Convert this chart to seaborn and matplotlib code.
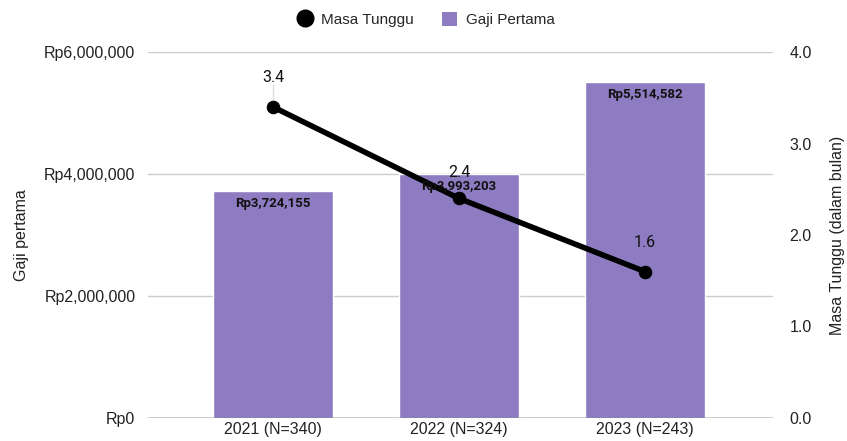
import matplotlib
matplotlib.use("Agg")
import matplotlib.pyplot as plt
import seaborn as sns
import pandas as pd
from matplotlib.lines import Line2D
from matplotlib.patches import Patch

categories = ["2021 (N=340)", "2022 (N=324)", "2023 (N=243)"]
gaji = [3724155, 3993203, 5514582]
masa = [3.4, 2.4, 1.6]
left_ticks = [0, 2000000, 4000000, 6000000]
right_ticks = [0.0, 1.0, 2.0, 3.0, 4.0]

df = pd.DataFrame({"tahun": categories, "gaji": gaji, "masa": masa})

sns.set_style("white")
plt.rcParams["font.family"] = ["Liberation Sans", "DejaVu Sans"]

fig = plt.figure(figsize=(8.47, 4.41), dpi=100)
ax = fig.add_axes([0.1747, 0.0522, 0.9126 - 0.1747, 0.882 - 0.0522])
bar_color = "#8e7cc3"
sns.barplot(data=df, x="tahun", y="gaji", color=bar_color, width=0.645,
            saturation=1, ax=ax, zorder=2)
ax.set_ylim(0, 6000000)
ax.set_xlim(-0.672, 2.688)
ax.set_yticks(left_ticks)
ax.set_yticklabels([f"Rp{v:,.0f}" for v in left_ticks], fontsize=11.5, color="#222222")
ax.set_xlabel("")
ax.set_ylabel("Gaji pertama", fontsize=11.5, color="#222222", labelpad=11)
ax.tick_params(axis="x", labelsize=11.5, colors="#222222", length=0, pad=3)
ax.tick_params(axis="y", length=0, pad=9)
ax.grid(axis="y", color="#cccccc", linewidth=1, zorder=0)
ax.set_axisbelow(True)
for s in ax.spines.values():
    s.set_visible(False)
ax.axhline(0, color="#333333", linewidth=1, zorder=3)

ax2 = ax.twinx()
sns.lineplot(x=list(range(len(categories))), y=masa, ax=ax2, color="black",
             linewidth=4, marker="o", markersize=9, markeredgecolor="black", zorder=5)
ax2.set_ylim(0, 4)
ax2.set_yticks(right_ticks)
ax2.set_yticklabels([f"{v:.1f}" for v in right_ticks], fontsize=11.5, color="#222222")
ax2.set_ylabel("Masa Tunggu (dalam bulan)", fontsize=11.5, color="#222222", labelpad=13)
ax2.tick_params(axis="y", length=0, pad=12)
for s in ax2.spines.values():
    s.set_visible(False)

for i, v in enumerate(gaji):
    ax2.annotate(f"Rp{v:,.0f}", xy=(i, v), xycoords=ax.transData, xytext=(0, -9),
                 textcoords="offset points", ha="center", va="center", fontsize=9.5,
                 fontweight="bold", family=["Roboto", "DejaVu Sans"], color="#111111", zorder=7)

offsets = [21, 19, 21]
for i, v in enumerate(masa):
    ax2.annotate(f"{v}", xy=(i, v), xytext=(0, offsets[i]), textcoords="offset points",
                 ha="center", va="center", fontsize=11.5, family=["Roboto", "DejaVu Sans"],
                 color="#111111", zorder=6)
ax2.plot([0, 0], [3.4 + 0.05, 3.4 + 0.24], color="#dddddd", linewidth=1, zorder=4)

handles = [Line2D([0], [0], marker="o", color="none", markerfacecolor="black",
                  markeredgecolor="black", markersize=12, label="Masa Tunggu"),
           Patch(facecolor=bar_color, edgecolor="none", label="Gaji Pertama")]
fig.legend(handles=handles, loc="center", bbox_to_anchor=(0.503, 0.955), ncol=2,
           frameon=False, fontsize=11, handlelength=1.0, handleheight=1.0,
           columnspacing=1.8, handletextpad=0.6)

fig.savefig("out.png", dpi=100)
